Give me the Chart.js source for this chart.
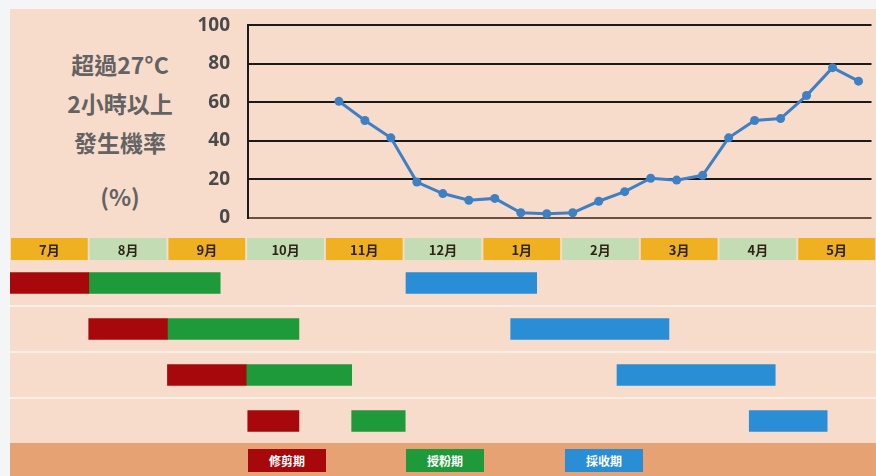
<!DOCTYPE html>
<html>
<head>
<meta charset="utf-8">
<script src="https://cdn.jsdelivr.net/npm/chart.js@4/dist/chart.umd.min.js"></script>
<style>
html,body{margin:0;padding:0;width:876px;height:476px;overflow:hidden;background:#f3f5f6;}
#panel{position:absolute;left:10px;top:9px;width:866px;height:467px;background:#f8dccb;}
canvas{position:absolute;}
#lineChart{left:0;top:-4px;}
#monthChart{left:0;top:238px;}
#ganttChart{left:0;top:260px;}
.ylab{position:absolute;left:20px;width:200px;text-align:center;font-family:'Noto Sans CJK TC','Open Sans',sans-serif;font-weight:700;font-size:23px;color:#636363;line-height:30px;height:30px;}
#band{position:absolute;left:10px;top:443px;width:866px;height:33px;background:#e7a273;}
.lg{position:absolute;top:6px;width:78px;height:23px;line-height:23px;text-align:center;color:#fff;font-family:'Noto Sans CJK TC',sans-serif;font-size:12px;font-weight:700;}
</style>
</head>
<body>
<div id="panel"></div>
<div class="ylab" style="top:49px">超過27°C</div>
<div class="ylab" style="top:88px">2小時以上</div>
<div class="ylab" style="top:127px">發生機率</div>
<div class="ylab" style="top:181px">(%)</div>
<canvas id="lineChart" width="876" height="251"></canvas>
<canvas id="monthChart" width="876" height="22"></canvas>
<canvas id="ganttChart" width="876" height="184"></canvas>
<div id="band"></div>
<script>
// ---------- data ----------
const monthLabels = ['7月','8月','9月','10月','11月','12月','1月','2月','3月','4月','5月'];
const stripValues = [1,1,1,1,1,1,1,1,1,1,1];
const yTickValues = [0,20,40,60,80,100];
// probability (%) of >27°C for 2h or more, per 10-day period, starting 11月上旬
const firstDekad = 12; // dekads counted from 7月上旬
const exceedProb = [60.5,50.5,41.5,18.5,12.5,9,10,2.5,2,2.5,8.5,13.5,20.5,19.5,22,41.5,50.5,51.5,63.5,78,71];
// gantt rows: [start, end] in months counted from the start of 7月
const rowLabels = ['A','B','C','D'];
const pruning     = [[0,1],[1,2],[2,3],[3.02,3.67]];
const pollination = [[1,2.67],[2,3.67],[3,4.34],[4.34,5.02]];
const harvest     = [[5.03,6.69],[6.36,8.37],[7.71,9.72],[9.39,10.38]];
const seriesNames = ['修剪期','授粉期','採收期'];

const RED='#a6080b', GREEN='#1f9a3b', BLUE='#2a8ed6', LINE='#3f7fc4';
const ORANGE='#efb122', LGREEN='#c4dcb4';

Chart.defaults.font.family = "'Open Sans','Noto Sans CJK TC',sans-serif";
Chart.defaults.animation = false;

// ---------- line chart ----------
new Chart(document.getElementById('lineChart'), {
  type: 'line',
  data: {
    datasets: [{
      data: exceedProb.map((v,i)=>({x:(firstDekad+i)/3+1/6, y:v})),
      borderColor: LINE, backgroundColor: LINE,
      borderWidth: 3, pointRadius: 4.5, pointBackgroundColor: LINE,
      pointBorderWidth: 0, tension: 0, clip: false
    }]
  },
  options: {
    responsive: false, events: [],
    layout: {padding: 0},
    plugins: {legend: {display: false}, tooltip: {enabled: false}},
    scales: {
      x: {type: 'linear', min: 3, max: 11, display: false},
      y: {
        min: 0, max: 100,
        afterFit: s => { s.width = 248; },
        afterBuildTicks: s => { s.ticks = yTickValues.map(v=>({value:v})); },
        ticks: {padding: 18, color: '#4a4a4a', font: {size: 19, weight: 'bold'}},
        grid: {drawTicks: false, lineWidth: 2,
               color: c => c.tick && c.tick.value === 0 ? '#6a5040' : '#1a1a1a'},
        border: {display: true, color: '#1a1a1a', width: 2}
      }
    }
  }
});

// ---------- month strip ----------
const monthTextPlugin = {
  id: 'monthText',
  afterDatasetsDraw(chart) {
    const {ctx, chartArea} = chart;
    const meta = chart.getDatasetMeta(0);
    ctx.save();
    ctx.font = "bold 13px 'Noto Sans CJK TC', sans-serif";
    ctx.fillStyle = '#2e2416';
    ctx.textAlign = 'center';
    ctx.textBaseline = 'middle';
    meta.data.forEach((bar, i) => {
      ctx.fillText(chart.data.labels[i], bar.x, (chartArea.top + chartArea.bottom) / 2 + 1);
    });
    ctx.restore();
  }
};
new Chart(document.getElementById('monthChart'), {
  type: 'bar',
  data: {
    labels: monthLabels,
    datasets: [{
      data: stripValues,
      backgroundColor: c => (c.dataIndex % 2 ? LGREEN : ORANGE),
      categoryPercentage: 1, barPercentage: 0.975
    }]
  },
  options: {
    responsive: false, events: [],
    layout: {padding: {left: 10}},
    plugins: {legend: {display: false}, tooltip: {enabled: false}},
    scales: {x: {display: false}, y: {display: false, min: 0, max: 1}}
  },
  plugins: [monthTextPlugin]
});

// ---------- gantt ----------
new Chart(document.getElementById('ganttChart'), {
  type: 'bar',
  data: {
    labels: rowLabels,
    datasets: [
      {label: seriesNames[0], data: pruning, backgroundColor: RED, grouped: false, barThickness: 21},
      {label: seriesNames[1], data: pollination, backgroundColor: GREEN, grouped: false, barThickness: 21},
      {label: seriesNames[2], data: harvest, backgroundColor: BLUE, grouped: false, barThickness: 21}
    ]
  },
  options: {
    indexAxis: 'y',
    responsive: false, events: [],
    layout: {padding: {left: 10}},
    plugins: {legend: {display: false}, tooltip: {enabled: false}},
    scales: {
      x: {type: 'linear', min: 0, max: 11, display: false},
      y: {
        ticks: {display: false},
        border: {display: false},
        grid: {drawTicks: false, offset: true, lineWidth: 2,
               color: c => (c.index > 0 && c.index < rowLabels.length) ? 'rgba(255,255,255,0.55)' : 'rgba(0,0,0,0)'}
      }
    }
  }
}); 

// ---------- legend ----------
const band = document.getElementById('band');
const legendLeft = [238, 396, 555];
[RED, GREEN, BLUE].forEach((col, i) => {
  const d = document.createElement('div');
  d.className = 'lg';
  d.style.left = legendLeft[i] + 'px';
  d.style.background = col;
  d.textContent = seriesNames[i];
  band.appendChild(d);
});
</script>
</body>
</html>
